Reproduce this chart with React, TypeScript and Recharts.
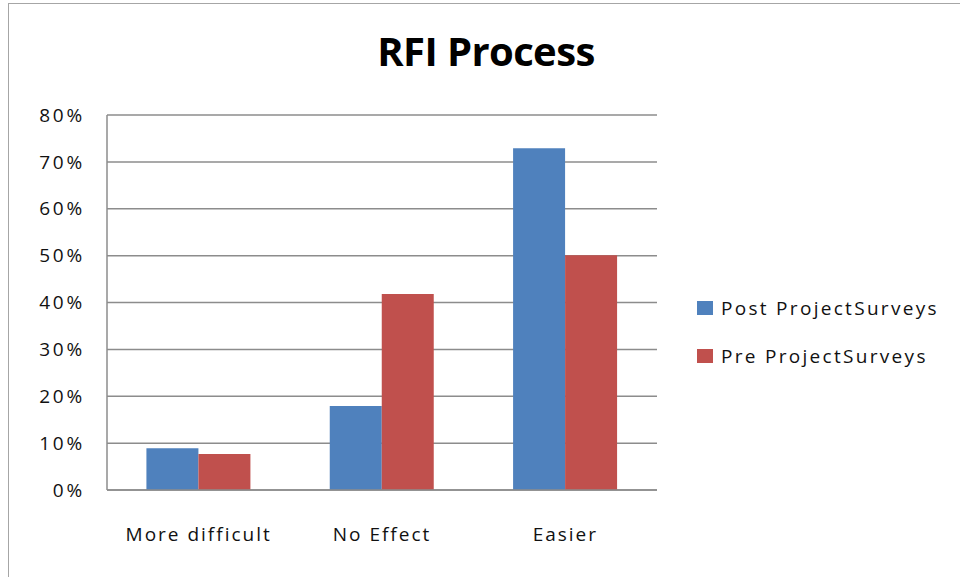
import { Bar, BarChart, CartesianGrid, XAxis, YAxis } from 'recharts';

const categories = ['More difficult', 'No Effect', 'Easier'];
const postSurveys = [0.089, 0.179, 0.729];
const preSurveys = [0.077, 0.418, 0.501];
const yTicks = [0, 0.1, 0.2, 0.3, 0.4, 0.5, 0.6, 0.7, 0.8];

const series = [
  { key: 'post', label: 'Post ProjectSurveys', color: '#4F81BD' },
  { key: 'pre', label: 'Pre ProjectSurveys', color: '#C0504D' },
];

const data = categories.map((name, i) => ({
  name,
  post: postSurveys[i],
  pre: preSurveys[i],
}));

const font = '"Open Sans", "Liberation Sans", sans-serif';
const gridColor = '#8c8c8c';

function LegendBox() {
  return (
    <div
      style={{
        position: 'absolute',
        left: 697,
        top: 284,
        fontFamily: font,
        fontSize: 19,
        color: '#111',
      }}
    >
      {series.map((s) => (
        <div
          key={s.key}
          style={{ display: 'flex', alignItems: 'center', height: 48, letterSpacing: 2.3 }}
        >
          <span
            style={{
              display: 'inline-block',
              width: 16,
              height: 14,
              background: s.color,
              marginRight: 8,
            }}
          />
          {s.label}
        </div>
      ))}
    </div>
  );
}

export default function App() {
  return (
    <div
      style={{
        position: 'absolute',
        left: 0,
        top: 0,
        width: 960,
        height: 577,
        overflow: 'hidden',
        background: '#fff',
      }}
    >
      <div
        style={{
          position: 'absolute',
          left: 8,
          top: 3,
          width: 1000,
          height: 700,
          border: '1.5px solid #a6a6a6',
        }}
      />
      <div
        style={{
          position: 'absolute',
          left: 0,
          top: 23,
          width: 972,
          textAlign: 'center',
          fontFamily: font,
          fontWeight: 700,
          fontSize: 40,
          letterSpacing: -0.6,
          color: '#000',
        }}
      >
        RFI Process
      </div>
      <BarChart
        width={960}
        height={577}
        data={data}
        margin={{ top: 115, right: 303, bottom: 37, left: 0 }}
        barCategoryGap="21.5%"
        barGap={0}
        style={{ position: 'absolute', left: 0, top: 0 }}
      >
        <CartesianGrid vertical={false} stroke={gridColor} strokeWidth={1.5} />
        <XAxis
          dataKey="name"
          height={50}
          tickSize={0}
          tickMargin={38}
          axisLine={{ stroke: gridColor, strokeWidth: 1.5 }}
          tick={{ fill: '#111', fontSize: 19, fontFamily: font, letterSpacing: 2 }}
        />
        <YAxis
          width={107}
          domain={[0, 0.8]}
          ticks={yTicks}
          interval={0}
          tickSize={0}
          tickMargin={22}
          axisLine={{ stroke: gridColor, strokeWidth: 1.5 }}
          tickFormatter={(v: number) => `${Math.round(v * 100)}%`}
          tick={{ fill: '#111', fontSize: 19, fontFamily: font, letterSpacing: 2.8 }}
        />
        {series.map((s) => (
          <Bar
            key={s.key}
            dataKey={s.key}
            name={s.label}
            fill={s.color}
            isAnimationActive={false}
          />
        ))}
      </BarChart>
      <LegendBox />
    </div>
  );
}
